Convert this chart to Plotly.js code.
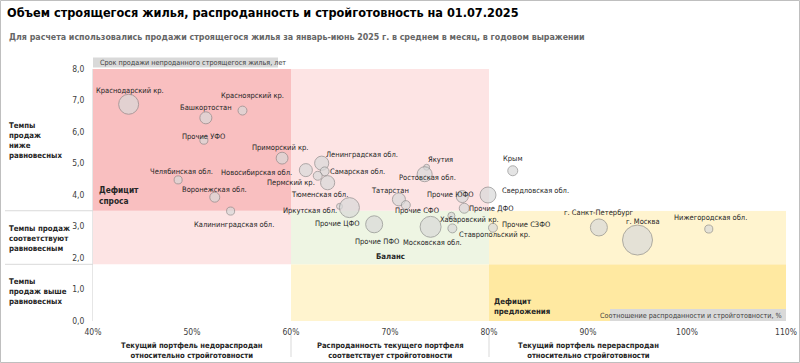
<!DOCTYPE html>
<html>
<head>
<meta charset="utf-8">
<script src="https://cdn.plot.ly/plotly-3.0.1.min.js"></script>
<style>html,body{margin:0;padding:0;background:#fff;}#chart{width:800px;height:363px;}</style>
</head>
<body>
<div id="chart"></div>
<script>
// ---- data ----
const regions = ["Краснодарский кр.","Красноярский кр.","Башкортостан","Прочие УФО","Приморский кр.","Челябинская обл.","Воронежская обл.","Калининградская обл.","Новосибирская обл.","Ленинградская обл.","Самарская обл.","Тюменская обл.","Пермский кр.","Иркутская обл.","Прочие ЦФО","Прочие ПФО","Татарстан","Прочие СФО","Московская обл.","Якутия","Ростовская обл.","Прочие ЮФО","Прочие ДФО","Хабаровский кр.","Ставропольский кр.","Свердловская обл.","Крым","Прочие СЗФО","г. Санкт-Петербург","г. Москва","Нижегородская обл."];
// ratio of sold share to construction readiness, %
const ratioPct = [43.6,55.1,51.4,51.2,59.1,48.6,52.3,53.9,61.5,63.1,63.4,62.7,63.7,64.9,65.9,68.4,70.9,71.6,74.1,73.7,73.5,77.3,77.5,76.2,76.3,79.9,82.4,80.4,91.1,95.0,102.2];
// time to sell unsold housing under construction, years
const sellYears = [6.88,6.68,6.45,5.74,5.17,4.48,3.93,3.49,4.79,5.01,4.75,4.61,4.39,3.64,3.60,3.07,3.86,3.68,2.99,4.88,4.66,3.95,3.58,3.34,2.94,4.00,4.77,2.96,2.97,2.57,2.92];
// volume of housing under construction (relative, bubble size)
const volume = [4.0,0.8,1.45,0.65,1.4,0.65,1.0,0.65,1.7,2.0,0.8,0.8,2.0,0.35,4.0,2.9,1.7,0.8,4.4,0.35,2.25,1.45,1.0,0.5,0.8,2.55,1.0,0.8,2.9,9.0,0.65];
const xTicks = [40,50,60,70,80,90,100,110];
const xBreaks = [40,60,80,110];
const yBreaks = [0,1.8,3.5,8];

// ---- label offsets (px, text centre relative to bubble centre) ----
const lblDx = [1,10,0,0,-2,3.5,0,3,-49,40,33,2,-37,-30,-12,3,-8.5,10.7,2,14,3,-11.7,27,18,42,47.5,0,33,0,5,2];
const lblDy = [-14,-15,-10,-4,-11,-8,-8,13,2,-9,0,19,0,4,16,17,-9,5,16,-8,3,-1.7,0.5,3.5,6,-4.3,-12,-3,-15,-19,-12];

const FONT = "DejaVu Sans Condensed, Liberation Sans, Arial, sans-serif";
const L = 93, R = 786, T = 69, B = 321;
const px = p => (p - L) / (R - L);
const py = p => (B - p) / (B - T);

const zoneCols = [
  ["#ffffff","#fde4e4","#f9bfc0"],
  ["#fff4cf","#eef5e3","#fde4e4"],
  ["#ffe9a1","#fff4cf","#ffffff"]
];
const shapes = [];
for (let i = 0; i < 3; i++) for (let j = 0; j < 3; j++) {
  shapes.push({type:"rect", xref:"x", yref:"y", x0:xBreaks[i], x1:xBreaks[i+1], y0:yBreaks[j], y1:yBreaks[j+1],
    fillcolor:zoneCols[i][j], line:{width:0}, layer:"below"});
}
// outer border
shapes.push({type:"rect", xref:"paper", yref:"paper", x0:px(0.5), x1:px(799.5), y0:py(362.5), y1:py(0.5), line:{color:"#bfbfbf", width:1}, fillcolor:"rgba(0,0,0,0)"});
// left separators
[3.5,1.8].forEach(v => shapes.push({type:"line", xref:"paper", yref:"y", x0:px(5), x1:0, y0:v, y1:v, line:{color:"#d9d9d9", width:1}}));
// bottom separators
[60,80].forEach(v => shapes.push({type:"line", xref:"x", yref:"paper", x0:v, x1:v, y0:py(335), y1:py(357), line:{color:"#d9d9d9", width:1}}));
// grey caption boxes
shapes.push({type:"rect", xref:"paper", yref:"paper", x0:0, x1:px(278), y0:py(67.5), y1:py(57.5), fillcolor:"#d9d9d9", line:{width:0}});
shapes.push({type:"rect", xref:"paper", yref:"paper", x0:px(610), x1:1, y0:py(321), y1:py(309), fillcolor:"#d9d9d9", line:{width:0}});

const annotations = regions.map((r, i) => ({
  x: ratioPct[i], y: sellYears[i], xref:"x", yref:"y", text: r, showarrow:false,
  xshift: lblDx[i], yshift: -lblDy[i], xanchor:"center", yanchor:"middle",
  font:{family:FONT, size:7.5, color:"#262626"}
}));
const bold = (t) => "<b>" + t + "</b>";
annotations.push(
  {xref:"paper", yref:"paper", x:px(7), y:py(37), xanchor:"left", yanchor:"middle", showarrow:false,
   text: bold("Для расчета использовались продажи строящегося жилья за январь-июнь 2025 г. в среднем в месяц, в годовом выражении"),
   font:{family:FONT, size:8.8, color:"#666666"}},
  {xref:"paper", yref:"paper", x:px(98), y:py(62.5), xanchor:"left", yanchor:"middle", showarrow:false,
   text:"Срок продажи непроданного строящегося жилья, лет", font:{family:FONT, size:7.2, color:"#404040"}},
  {xref:"paper", yref:"paper", x:px(784), y:py(315), xanchor:"right", yanchor:"middle", showarrow:false,
   text:"Соотношение распроданности и стройготовности, %", font:{family:FONT, size:7.2, color:"#404040"}},
  {xref:"paper", yref:"paper", x:px(7), y:py(140), xanchor:"left", yanchor:"middle", align:"left", showarrow:false,
   text: bold("Темпы<br>продаж<br>ниже<br>равновесных"), font:{family:FONT, size:7.8, color:"#262626"}},
  {xref:"paper", yref:"paper", x:px(7), y:py(238), xanchor:"left", yanchor:"middle", align:"left", showarrow:false,
   text: bold("Темпы продаж<br>соответствуют<br>равновесным"), font:{family:FONT, size:7.8, color:"#262626"}},
  {xref:"paper", yref:"paper", x:px(7), y:py(291), xanchor:"left", yanchor:"middle", align:"left", showarrow:false,
   text: bold("Темпы<br>продаж выше<br>равновесных"), font:{family:FONT, size:7.8, color:"#262626"}},
  {xref:"paper", yref:"paper", x:px(97), y:py(195), xanchor:"left", yanchor:"middle", align:"left", showarrow:false,
   text: bold("Дефицит<br>спроса"), font:{family:FONT, size:8.3, color:"#262626"}},
  {xref:"x", yref:"paper", x:70, y:py(256), xanchor:"center", yanchor:"middle", showarrow:false,
   text: bold("Баланс"), font:{family:FONT, size:7.8, color:"#262626"}},
  {xref:"paper", yref:"paper", x:px(492), y:py(306), xanchor:"left", yanchor:"middle", align:"left", showarrow:false,
   text: bold("Дефицит<br>предложения"), font:{family:FONT, size:7.8, color:"#262626"}},
  {xref:"x", yref:"paper", x:50, y:py(350.5), xanchor:"center", yanchor:"middle", showarrow:false,
   text: bold("Текущий портфель недораспродан<br>относительно стройготовности"), font:{family:FONT, size:7.6, color:"#262626"}},
  {xref:"x", yref:"paper", x:70, y:py(350.5), xanchor:"center", yanchor:"middle", showarrow:false,
   text: bold("Распроданность текущего портфеля<br>соответствует стройготовности"), font:{family:FONT, size:7.6, color:"#262626"}},
  {xref:"x", yref:"paper", x:90, y:py(350.5), xanchor:"center", yanchor:"middle", showarrow:false,
   text: bold("Текущий портфель перераспродан<br>относительно стройготовности"), font:{family:FONT, size:7.6, color:"#262626"}}
);

const trace = {
  type:"scatter", mode:"markers", x: ratioPct, y: sellYears, text: regions,
  marker:{size: volume, sizemode:"area", sizeref:0.02, color:"#d9d9d9", line:{color:"#8c8c8c", width:1}},
  hoverinfo:"text", cliponaxis:false
};

const layout = {
  width:800, height:363,
  margin:{l:L, r:800-R, t:T, b:363-B, pad:0},
  paper_bgcolor:"#ffffff", plot_bgcolor:"#ffffff",
  separators:", ",
  showlegend:false,
  title:{text: bold("Объем строящегося жилья, распроданность и стройготовность на 01.07.2025"),
    font:{family:FONT, size:12.6, color:"#000000"}, x:7/800, xref:"container", xanchor:"left", y:1-13/363, yref:"container", yanchor:"middle"},
  xaxis:{range:[40,110], tickvals:xTicks, ticktext:xTicks.map(v => v + "%"), showgrid:false, zeroline:false,
    showline:false, ticks:"", ticklabelstandoff:4, tickfont:{family:FONT, size:8.5, color:"#404040"}, fixedrange:true},
  yaxis:{range:[0,8], dtick:1, tick0:0, tickformat:".1f", showgrid:false, zeroline:false,
    showline:true, linecolor:"#e6e6e6", linewidth:1, ticks:"", ticklabelstandoff:6,
    tickfont:{family:FONT, size:8.5, color:"#404040"}, fixedrange:true},
  shapes: shapes,
  annotations: annotations
};

Plotly.newPlot("chart", [trace], layout, {displayModeBar:false, staticPlot:true});
</script>
</body>
</html>
